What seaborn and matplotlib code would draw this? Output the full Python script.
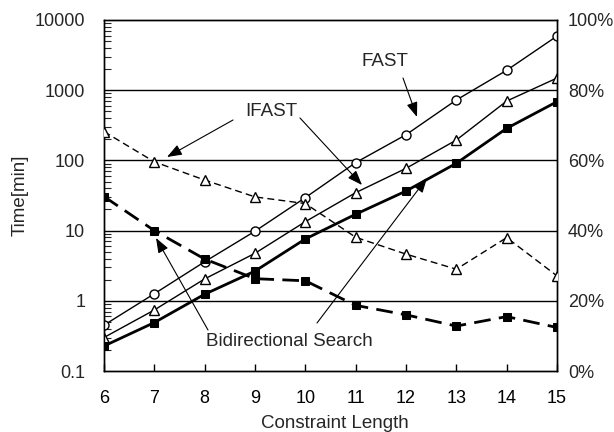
import matplotlib
matplotlib.use("Agg")
import matplotlib.pyplot as plt
import seaborn as sns
import numpy as np
from matplotlib.ticker import FixedLocator, NullFormatter, LogLocator

# ---- data ----
constraint_length = [6, 7, 8, 9, 10, 11, 12, 13, 14, 15]
fast_time = [0.45, 1.26, 3.6, 9.8, 29.5, 93, 232, 725, 1920, 5900]
ifast_time = [0.30, 0.74, 2.05, 4.75, 13.4, 34.7, 77, 195, 700, 1490]
bidir_time = [0.227, 0.49, 1.24, 2.65, 7.6, 17.1, 36.6, 91, 286, 686]
ifast_pct = [68.2, 59.6, 54.4, 49.6, 47.7, 38.1, 33.3, 29.0, 38.0, 27.1]
bidir_pct = [49.7, 40.0, 31.9, 26.3, 25.7, 18.7, 16.0, 12.8, 15.5, 12.4]

left_ticks = [0.1, 1, 10, 100, 1000, 10000]
left_labels = ["0.1", "1", "10", "100", "1000", "10000"]
right_ticks = [0, 20, 40, 60, 80, 100]
right_labels = ["0%", "20%", "40%", "60%", "80%", "100%"]

sns.set_theme(style="white")
plt.rcParams["font.family"] = ["Liberation Sans", "DejaVu Sans"]

W, H = 614, 432
fig = plt.figure(figsize=(W / 100, H / 100), dpi=100)
ax = fig.add_axes([104 / W, 1 - 371 / H, (557 - 104) / W, (371 - 20) / H])
ax2 = ax.twinx()

ax.set_yscale("log")
ax.set_ylim(0.1, 10000)
ax.set_xlim(6, 15)
ax2.set_ylim(0, 100)

# horizontal gridlines at decades
for t in left_ticks[1:-1]:
    ax.axhline(t, color="black", lw=1.0, zorder=1)

# time series (left axis)
sns.lineplot(x=constraint_length, y=fast_time, ax=ax, color="black", lw=1.0,
             marker="o", markersize=6.5, markerfacecolor="white",
             markeredgecolor="black", markeredgewidth=1.0, zorder=3)
sns.lineplot(x=constraint_length, y=ifast_time, ax=ax, color="black", lw=1.0,
             marker="^", markersize=7, markerfacecolor="white",
             markeredgecolor="black", markeredgewidth=1.0, zorder=3)
sns.lineplot(x=constraint_length, y=bidir_time, ax=ax, color="black", lw=2.0,
             marker="s", markersize=6.2, markerfacecolor="black",
             markeredgecolor="black", zorder=4)

# percentage series (right axis)
sns.lineplot(x=constraint_length, y=ifast_pct, ax=ax2, color="black", lw=1.0,
             linestyle=(0, (5, 3)),
             marker="^", markersize=7, markerfacecolor="white",
             markeredgecolor="black", markeredgewidth=1.0, zorder=3)
sns.lineplot(x=constraint_length, y=bidir_pct, ax=ax2, color="black", lw=2.0,
             linestyle=(0, (6, 3)),
             marker="s", markersize=6.2, markerfacecolor="black",
             markeredgecolor="black", zorder=4)

# axes styling
for a in (ax, ax2):
    for s in a.spines.values():
        s.set_color("black")
        s.set_linewidth(1.0)
    a.set_xlabel("")
    a.set_ylabel("")

ax.xaxis.set_major_locator(FixedLocator(constraint_length))
ax.set_xticklabels([str(v) for v in constraint_length])
ax.yaxis.set_major_locator(FixedLocator(left_ticks))
ax.set_yticklabels(left_labels)
ax.tick_params(axis="x", which="major", direction="in", length=5, width=1,
               bottom=True, top=False, labelsize=13, pad=13.5, colors="black")
ax.tick_params(axis="y", which="major", direction="in", length=0,
               left=True, right=False, labelsize=13, pad=13.5)
ax.yaxis.set_minor_locator(LogLocator(base=10, subs=np.arange(2, 10)))
ax.yaxis.set_minor_formatter(NullFormatter())
ax.tick_params(axis="y", which="minor", direction="in", length=5, width=0.8,
               left=True, right=False)

ax2.yaxis.set_major_locator(FixedLocator(right_ticks))
ax2.set_yticklabels(right_labels)
ax2.tick_params(axis="y", which="both", length=0, labelsize=13, pad=8)

ax.set_ylabel("Time[min]", fontsize=13.5, va="center")
ax.yaxis.set_label_coords(-(104 - 20) / 453, 0.5)
ax.set_xlabel("Constraint Length", fontsize=13.5, va="center")
ax.xaxis.set_label_coords((335 - 104) / 453, -(423 - 371) / 351)

# annotations (figure pixel coordinates, origin bottom-left)
def P(x, y):
    return (x, H - y)

arrow = dict(arrowstyle="-|>,head_length=0.75,head_width=0.28", color="black",
             lw=0.8, shrinkA=0, shrinkB=0)

fig.text(385 / W, 1 - 62 / H, "FAST", fontsize=13.5, ha="center", va="center")
fig.text(271 / W, 1 - 112 / H, "IFAST", fontsize=13.5, ha="center", va="center")
fig.text(289 / W, 1 - 341 / H, "Bidirectional Search", fontsize=13.5,
         ha="center", va="center")

for tail, head in [((403, 78), (417, 117)),
                   ((233, 120), (167, 157)),
                   ((300, 118), (362, 185)),
                   ((208, 330), (156, 238)),
                   ((317, 323), (427, 178))]:
    ax.annotate("", xy=P(*head), xytext=P(*tail), xycoords="figure pixels",
                textcoords="figure pixels", arrowprops=arrow,
                annotation_clip=False)

fig.savefig("out.png", dpi=100)
